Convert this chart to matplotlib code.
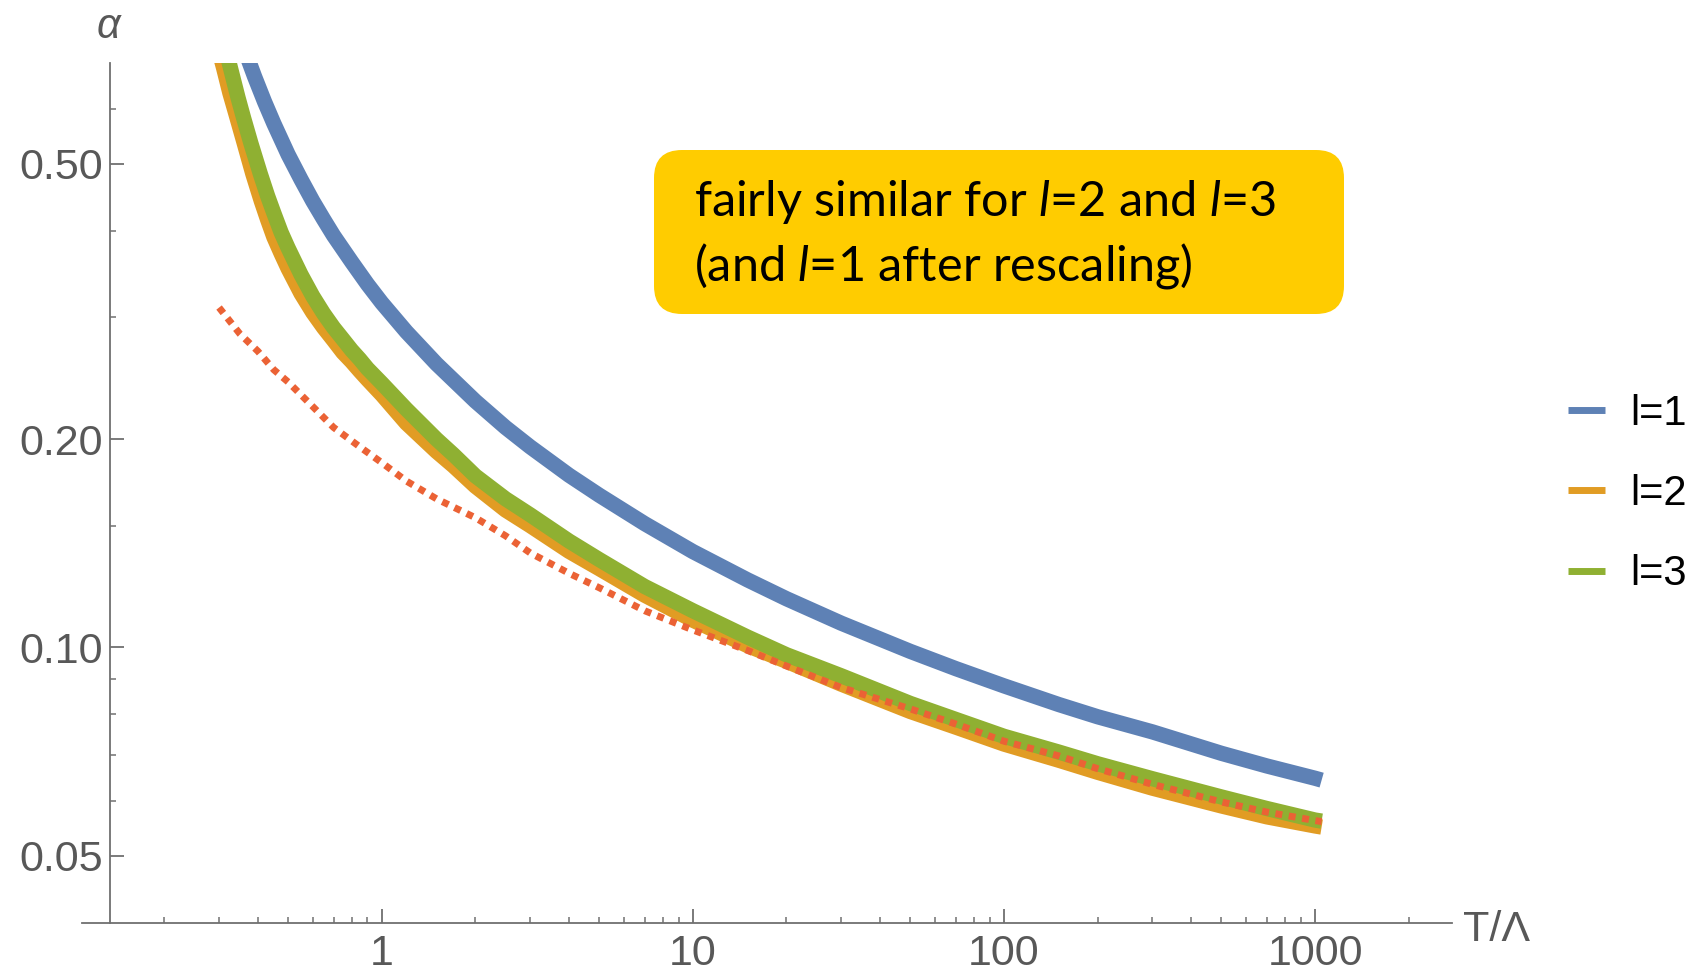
import numpy as np
import matplotlib
matplotlib.use('Agg')
import matplotlib.pyplot as plt
from matplotlib.patches import FancyBboxPatch
from matplotlib.lines import Line2D
from matplotlib.ticker import FixedLocator, FixedFormatter, NullFormatter

# values (T/Lambda, alpha)
x_l1 = [0.36, 0.374, 0.39, 0.42, 0.45, 0.5, 0.55, 0.6, 0.65, 0.7, 0.8, 0.9, 1,
        1.2, 1.5, 2, 2.5, 3, 4, 5, 7, 10, 15, 20, 30, 50, 70, 100, 150, 200,
        300, 500, 700, 1000, 1050]
a_l1 = [0.740, 0.704, 0.669, 0.615, 0.572, 0.516, 0.475, 0.442, 0.416, 0.394,
        0.361, 0.335, 0.315, 0.286, 0.257, 0.227, 0.208, 0.195, 0.1774, 0.166,
        0.151, 0.1376, 0.1252, 0.1176, 0.1084, 0.0987, 0.0932, 0.0880, 0.0827,
        0.0794, 0.0755, 0.0703, 0.0674, 0.0647, 0.0643]

x_l2 = [0.30, 0.31, 0.325, 0.34, 0.36, 0.385, 0.41, 0.43, 0.45, 0.475, 0.5,
        0.55, 0.6, 0.65, 0.7, 0.75, 0.8, 0.85, 0.9, 1, 1.2, 1.5, 1.7, 2, 2.5, 3,
        4, 5, 7, 10, 15, 20, 30, 50, 70, 100, 150, 200, 300, 500, 700, 1000,
        1050]
a_l2 = [0.728, 0.689, 0.633, 0.590, 0.539, 0.484, 0.442, 0.415, 0.392, 0.371,
        0.353, 0.325, 0.305, 0.290, 0.278, 0.267, 0.259, 0.251, 0.244, 0.232,
        0.211, 0.192, 0.183, 0.171, 0.158, 0.150, 0.1377, 0.130, 0.119, 0.1095,
        0.1006, 0.0955, 0.0885, 0.0808, 0.0767, 0.0725, 0.0687, 0.0660,
        0.0626, 0.0590, 0.0569, 0.0552, 0.0550]

x_l3 = [0.31, 0.32, 0.33, 0.345, 0.36, 0.38, 0.407, 0.43, 0.45, 0.475, 0.5,
        0.55, 0.6, 0.65, 0.7, 0.75, 0.8, 0.85, 0.9, 1, 1.2, 1.5, 1.7, 2, 2.5, 3,
        4, 5, 7, 10, 15, 20, 30, 50, 70, 100, 150, 200, 300, 500, 700, 1000,
        1050]
a_l3 = [0.756, 0.713, 0.675, 0.624, 0.582, 0.535, 0.484, 0.449, 0.4245, 0.398,
        0.378, 0.346, 0.322, 0.304, 0.290, 0.279, 0.269, 0.261, 0.253, 0.241,
        0.221, 0.200, 0.190, 0.177, 0.164, 0.1555, 0.1425, 0.134, 0.1225,
        0.1130, 0.1035, 0.0976, 0.0910, 0.0830, 0.0787, 0.0744, 0.0706,
        0.0679, 0.0646, 0.0608, 0.0585, 0.0563, 0.0561]

x_fit = [0.3, 0.35, 0.4, 0.45, 0.5, 0.6, 0.7, 0.85, 1, 1.2, 1.5, 2, 2.5, 3, 4,
         5, 7, 10, 15, 20, 30, 50, 70, 100, 150, 200, 300, 500, 700, 1000, 1050]
a_fit = [0.310, 0.284, 0.268, 0.252, 0.242, 0.223, 0.208, 0.195, 0.185, 0.174,
         0.164, 0.154, 0.145, 0.137, 0.128, 0.122, 0.113, 0.106, 0.099, 0.094,
         0.0875, 0.0815, 0.0775, 0.0732, 0.0697, 0.0668, 0.0634, 0.0598,
         0.0578, 0.0562, 0.0560]

legend_labels = ['l=1', 'l=2', 'l=3']
colors = ['#5E81B5', '#E19C24', '#8FB032']
fit_color = '#EB6235'

xticks = [1, 10, 100, 1000]
xticklabels = ['1', '10', '100', '1000']
xminor = [0.2, 0.3, 0.4, 0.5, 0.6, 0.7, 0.8, 0.9, 2, 3, 4, 5, 6, 7, 8, 9,
          20, 30, 40, 50, 60, 70, 80, 90, 200, 300, 400, 500, 600, 700, 800,
          900, 2000]
yticks = [0.05, 0.10, 0.20, 0.50]
yticklabels = ['0.05', '0.10', '0.20', '0.50']
yminor = [0.06, 0.07, 0.08, 0.09, 0.15, 0.3, 0.4, 0.6, 0.7]

axis_gray = '#707070'
label_gray = '#585858'

plt.rcParams['font.family'] = ['Liberation Sans', 'DejaVu Sans']
plt.rcParams['mathtext.fontset'] = 'custom'
plt.rcParams['mathtext.rm'] = 'Lato'
plt.rcParams['mathtext.it'] = 'Lato:italic'

fig = plt.figure(figsize=(17, 9.72), dpi=100)
ax = fig.add_axes([0.0481, 0.0507, 0.8062, 0.8842])

ax.set_xscale('log')
ax.set_yscale('log')

for xs, ys, c in zip([x_l1, x_l2, x_l3], [a_l1, a_l2, a_l3], colors):
    ax.plot(xs, ys, color=c, lw=11, solid_capstyle='butt', solid_joinstyle='round')
ax.plot(x_fit, a_fit, color=fit_color, lw=5, linestyle=(0, (1.0, 0.95)),
        dash_capstyle='butt')

ax.set_xlim(0.1086, 2762)
ax.set_ylim(0.04, 0.699)

# mathematica style axes
for s in ['top', 'right']:
    ax.spines[s].set_visible(False)
ax.spines['left'].set_position(('data', 0.1338))
for s in ['left', 'bottom']:
    ax.spines[s].set_color(axis_gray)
    ax.spines[s].set_linewidth(1.3)

ax.xaxis.set_major_locator(FixedLocator(xticks))
ax.xaxis.set_major_formatter(FixedFormatter(xticklabels))
ax.xaxis.set_minor_locator(FixedLocator(xminor))
ax.xaxis.set_minor_formatter(NullFormatter())
ax.yaxis.set_major_locator(FixedLocator(yticks))
ax.yaxis.set_major_formatter(FixedFormatter(yticklabels))
ax.yaxis.set_minor_locator(FixedLocator(yminor))
ax.yaxis.set_minor_formatter(NullFormatter())

ax.tick_params(which='major', direction='in', length=10, width=1.3,
               color=axis_gray, labelcolor=label_gray, labelsize=31)
ax.tick_params(which='minor', direction='in', length=4.5, width=1.1,
               color=axis_gray)
ax.tick_params(axis='x', which='major', pad=8)
ax.tick_params(axis='y', which='major', pad=5)

ax.annotate('T/\u039b', xy=(1, 0), xycoords='axes fraction', xytext=(8, -5),
            textcoords='offset points', ha='left', va='center', fontsize=31,
            color=label_gray)
ax.annotate('\u03b1', xy=(0.1338, 0.699), xycoords='data', xytext=(-1, 26),
            textcoords='offset points', ha='center', va='center', fontsize=30,
            style='italic', color=label_gray)

handles = [Line2D([], [], color=c, lw=5, solid_capstyle='butt') for c in colors]
ax.legend(handles, legend_labels, loc='center left',
          bbox_to_anchor=(1568 / 1700, 1 - 494 / 972),
          bbox_transform=fig.transFigure, frameon=False, fontsize=30,
          handlelength=0.89, handletextpad=0.6, labelspacing=0.97,
          borderpad=0, borderaxespad=0)

# yellow note box (inches from bottom-left)
box = FancyBboxPatch((6.54, 6.58), 6.90, 1.64,
                     boxstyle='round,pad=0,rounding_size=0.28',
                     transform=fig.dpi_scale_trans, fc='#FFCC00', ec='none')
fig.patches.append(box)
fig.text(6.94, 7.70, 'fairly similar for $l$=2 and $l$=3', transform=fig.dpi_scale_trans,
         fontsize=35, family='Lato', va='center', ha='left', color='black')
fig.text(6.94, 7.06, '(and $l$=1 after rescaling)', transform=fig.dpi_scale_trans,
         fontsize=35, family='Lato', va='center', ha='left', color='black')

fig.savefig('out.png', dpi=100)
